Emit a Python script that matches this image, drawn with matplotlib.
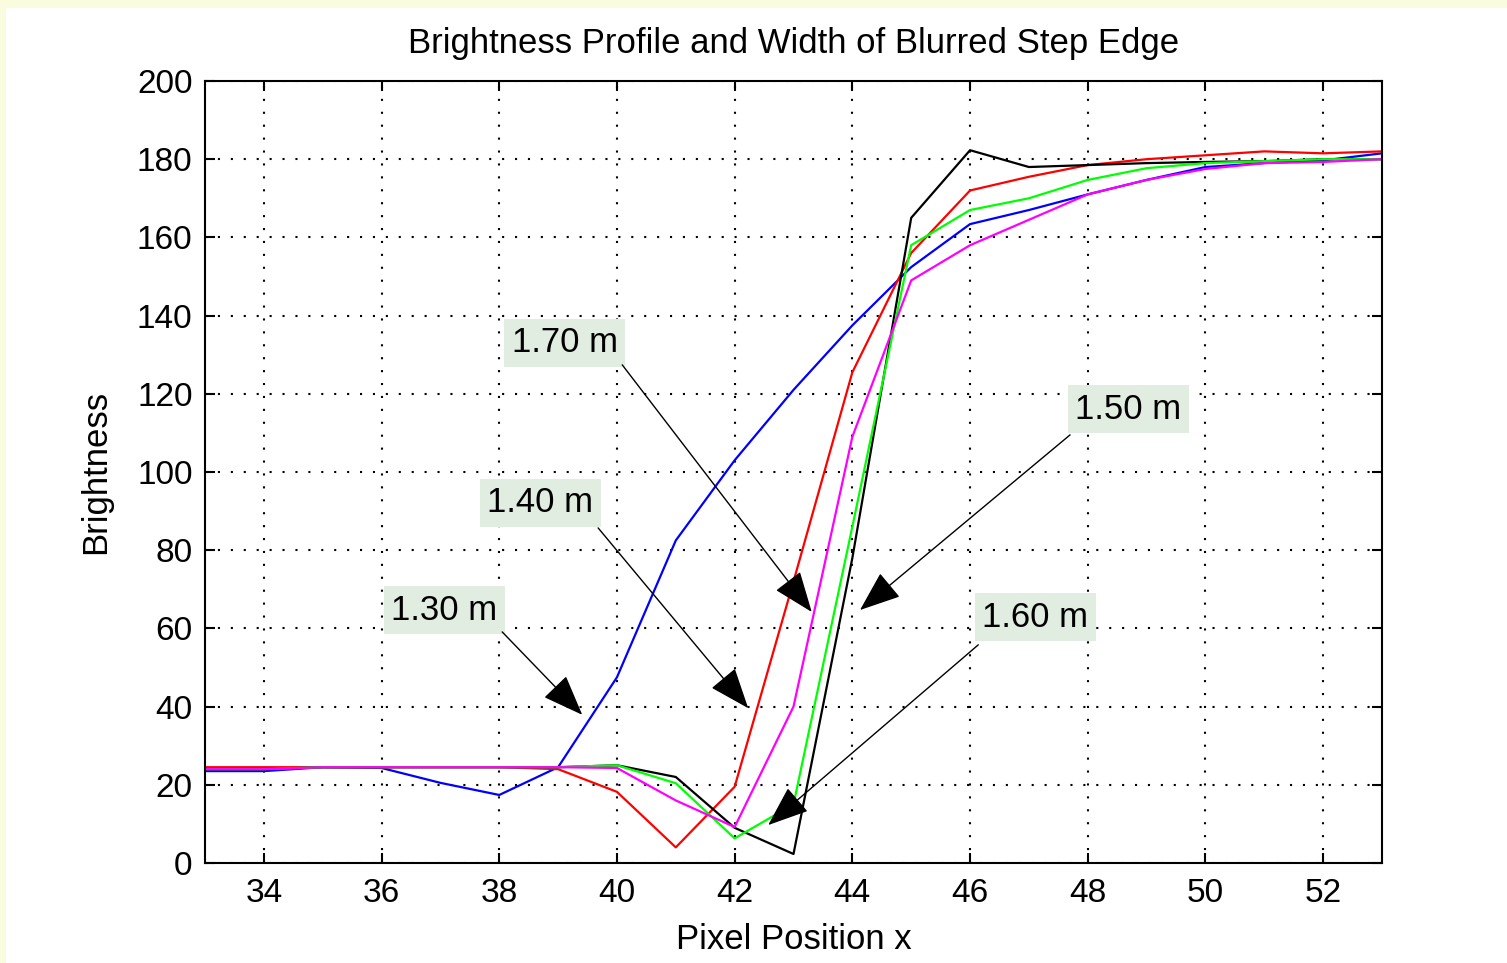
import numpy as np
import matplotlib
matplotlib.use("Agg")
import matplotlib.pyplot as plt
from matplotlib.patches import Rectangle

plt.rcParams["font.family"] = ["Liberation Sans", "DejaVu Sans"]

# pixel positions along the profile
x = np.arange(33, 54)

# brightness profiles for each camera distance
b_130 = [23.5, 23.5, 24.5, 24.3, 20.5, 17.4, 24.5, 47.5, 82.5, 103, 121, 137.5,
         152.4, 163.4, 167, 171, 174.7, 178, 179, 179.7, 181.5]
b_140 = [24.5, 24.5, 24.5, 24.5, 24.5, 24.5, 24, 18.2, 4, 19.5, 72, 125.5,
         156, 172, 175.5, 178.5, 180, 181, 182, 181.5, 182]
b_150 = [24, 24, 24.5, 24.5, 24.5, 24.5, 24.5, 25, 22, 9, 2.3, 78,
         165, 182.3, 178, 178.5, 179, 179.3, 179.5, 180, 180]
b_160 = [24, 24, 24.5, 24.5, 24.5, 24.5, 24.5, 25, 20.4, 6.3, 15, 86,
         158, 167, 170, 174.7, 177.7, 179, 179.5, 180, 180]
b_170 = [24, 24, 24.5, 24.5, 24.5, 24.5, 24.5, 24.3, 16, 9.2, 40, 109,
         149, 158, 164.5, 171, 174.7, 177.5, 179, 179.3, 180]

# annotation labels: text centre, arrow tail, arrow tip (data units)
labels = ["1.70 m", "1.40 m", "1.30 m", "1.50 m", "1.60 m"]
label_xy = [(39.11, 133.0), (38.70, 92.1), (37.07, 64.7), (48.69, 116.1), (47.11, 62.9)]
tail_xy = [(40.09, 127.4), (39.68, 85.7), (38.05, 59.1), (47.70, 109.5), (46.14, 55.8)]
tip_xy = [(43.31, 64.2), (42.23, 39.6), (39.41, 37.9), (44.13, 64.7), (42.57, 9.7)]

fig = plt.figure(figsize=(15.07, 9.63), dpi=100, facecolor="#fafcdf")
fig.patches.append(Rectangle((6 / 1507, 0), 1, 1 - 8 / 963, transform=fig.transFigure,
                             facecolor="white", edgecolor="none", zorder=-5))
ax = fig.add_axes([205 / 1507, 1 - 863 / 963, (1382 - 205) / 1507, (863 - 81) / 963])

lw = 1.6
ax.plot(x, b_130, color="#0000ff", lw=lw)
ax.plot(x, b_140, color="#ff0000", lw=lw)
ax.plot(x, b_150, color="black", lw=lw)
ax.plot(x, b_160, color="#00ff00", lw=lw)
ax.plot(x, b_170, color="#ff00ff", lw=lw)

ax.set_xlim(33, 53)
ax.set_ylim(0, 200)
ax.set_xticks(np.arange(34, 53, 2))
ax.set_yticks(np.arange(0, 201, 20))
ax.grid(True, color="black", linestyle=(0, (1, 5.2)), lw=1.5)
ax.tick_params(direction="in", length=7, width=1.5, top=True, right=True, labelsize=24)
ax.tick_params(axis="x", pad=11)
ax.tick_params(axis="y", pad=9)
for s in ax.spines.values():
    s.set_linewidth(1.5)

ax.set_title("Brightness Profile and Width of Blurred Step Edge", fontsize=25, pad=20)
ax.set_xlabel("Pixel Position x", fontsize=25, labelpad=10)
ax.set_ylabel("Brightness", fontsize=25, labelpad=18)

for lab, pos, tail, tip in zip(labels, label_xy, tail_xy, tip_xy):
    ax.text(pos[0], pos[1], lab, fontsize=25, ha="center", va="center",
            bbox=dict(boxstyle="square,pad=0.22", facecolor="#e2ede2", edgecolor="none"))
    ax.annotate("", xy=tip, xytext=tail,
                arrowprops=dict(arrowstyle="-|>,head_length=1.3,head_width=0.5",
                                mutation_scale=20, color="black", lw=1.0,
                                shrinkA=0, shrinkB=0))

fig.savefig("out.png", dpi=100, facecolor=fig.get_facecolor())
